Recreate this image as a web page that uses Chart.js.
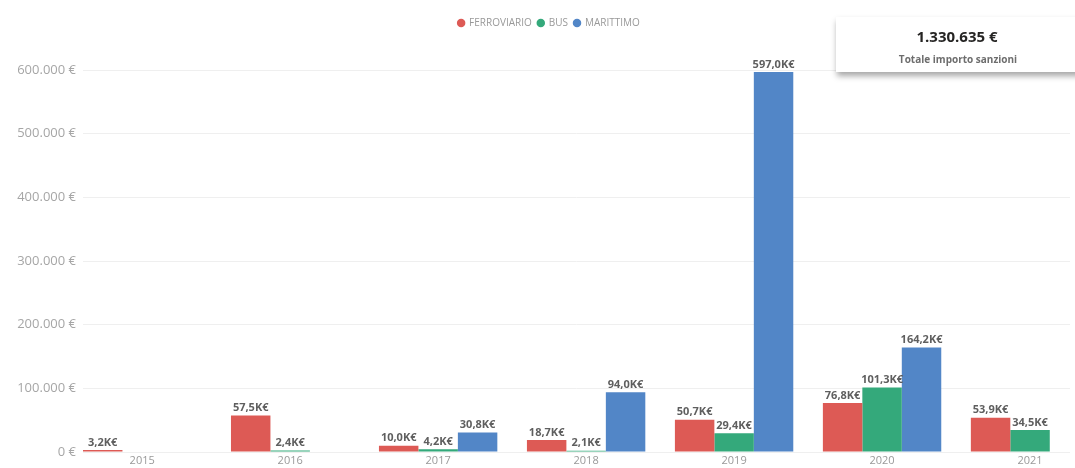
<html lang="it">
<head>
  <meta charset="UTF-8">
  <title>Importo sanzioni per anno</title>
  <style>
    html, body {
      margin: 0;
      padding: 0;
      background: #fff;
      overflow: hidden;
    }
    #wrap {
      position: relative;
      width: 1075px;
      height: 468px;
    }
    #card {
      position: absolute;
      left: 836px;
      top: 17px;
      width: 260px;
      height: 55px;
      background: #fff;
      box-shadow: 1px 4px 6px rgba(0, 0, 0, 0.35);
      font-family: "Open Sans", sans-serif;
    }
    #card .total {
      position: absolute;
      left: 0;
      width: 242px;
      top: 9px;
      text-align: center;
      font-size: 15px;
      font-weight: bold;
      color: #252423;
    }
    #card .caption {
      position: absolute;
      left: 0;
      width: 244px;
      top: 35px;
      text-align: center;
      font-size: 10px;
      font-weight: bold;
      color: #6d6d6d;
    }
  </style>
  <script src="https://cdn.jsdelivr.net/npm/chart.js@4.4.1/dist/chart.umd.min.js"></script>
</head>
<body>
  <div id="wrap">
    <canvas id="barChart" width="1075" height="468"></canvas>
    <div id="card">
      <div class="total">1.330.635 €</div>
      <div class="caption">Totale importo sanzioni</div>
    </div>
  </div>
  <script>
    const years = ["2015", "2016", "2017", "2018", "2019", "2020", "2021"]
    const ferroviario = [3200, 57500, 10000, 18700, 50700, 76800, 53900]
    const bus = [null, 2400, 4200, 2100, 29400, 101300, 34500]
    const marittimo = [null, null, 30800, 94000, 597000, 164200, null]
    const yTicks = [0, 100000, 200000, 300000, 400000, 500000, 600000]

    const euro = v => String(v).replace(/\B(?=(\d{3})+(?!\d))/g, ".") + " €"
    const kEuro = v => (v / 1000).toFixed(1).replace(".", ",") + "K€"
    const points = arr => arr.map((v, i) => ({ x: i, y: v }))

    // labels are drawn after each series, so the next series' bars may cover them
    const barLabels = {
      id: "barLabels",
      afterDatasetDraw(chart, args) {
        const ctx = chart.ctx
        const ds = chart.data.datasets[args.index]
        ctx.save()
        ctx.font = "bold 11px 'Open Sans'"
        ctx.fillStyle = "#5f5f5f"
        ctx.textAlign = "center"
        ctx.textBaseline = "bottom"
        args.meta.data.forEach((bar, i) => {
          const v = ds.data[i].y
          if (v == null) return
          ctx.fillText(kEuro(v), bar.x, bar.y - 2)
        })
        ctx.restore()
      }
    }

    // extra room under the legend, and nudge it a bit right
    const legendGap = {
      id: "legendGap",
      afterInit(chart) {
        const legend = chart.legend
        const fit = legend.fit
        legend.fit = function () {
          fit.call(this)
          this.height += 32
        }
        const draw = legend.draw
        legend.draw = function () {
          this.ctx.save()
          this.ctx.translate(14, 0)
          draw.call(this)
          this.ctx.restore()
        }
      }
    }

    const data = {
      datasets: [{
        label: "FERROVIARIO",
        backgroundColor: "#dd5a55",
        data: points(ferroviario),
      }, {
        label: "BUS",
        backgroundColor: "#34a97b",
        data: points(bus),
      }, {
        label: "MARITTIMO",
        backgroundColor: "#5286c7",
        data: points(marittimo),
      }]
    }

    const config = {
      type: "bar",
      data,
      plugins: [barLabels, legendGap],
      options: {
        responsive: false,
        animation: false,
        barPercentage: 1,
        categoryPercentage: 0.8,
        layout: { padding: { top: 12, right: 5, left: 0, bottom: 0 } },
        plugins: {
          legend: {
            position: "top",
            labels: {
              usePointStyle: true,
              pointStyle: "circle",
              boxWidth: 6,
              boxHeight: 6,
              padding: 6,
              color: "#999",
              font: { family: "'Open Sans'", size: 10 },
            }
          },
          tooltip: { enabled: false },
        },
        scales: {
          x: {
            type: "linear",
            offset: false,
            min: -0.4,
            max: 6.27,
            afterBuildTicks: scale => { scale.ticks = years.map((y, i) => ({ value: i })) },
            afterFit: scale => { scale.height = 16 },
            ticks: {
              callback: v => years[v],
              color: "#999",
              font: { family: "'Open Sans'", size: 11 },
              padding: 2,
              maxRotation: 0,
              autoSkip: false,
            },
            grid: { display: false, drawTicks: false },
            border: { display: false },
          },
          y: {
            min: 0,
            max: 600000,
            afterBuildTicks: scale => { scale.ticks = yTicks.map(v => ({ value: v })) },
            afterFit: scale => { scale.width = 83 },
            ticks: {
              callback: v => euro(v),
              color: "#a6a6a6",
              font: { family: "'Open Sans'", size: 13 },
              padding: 7,
            },
            grid: { color: "#efefef", drawTicks: false },
            border: { display: false },
          }
        }
      }
    }

    new Chart(document.getElementById("barChart"), config)
  </script>
</body>
</html>
